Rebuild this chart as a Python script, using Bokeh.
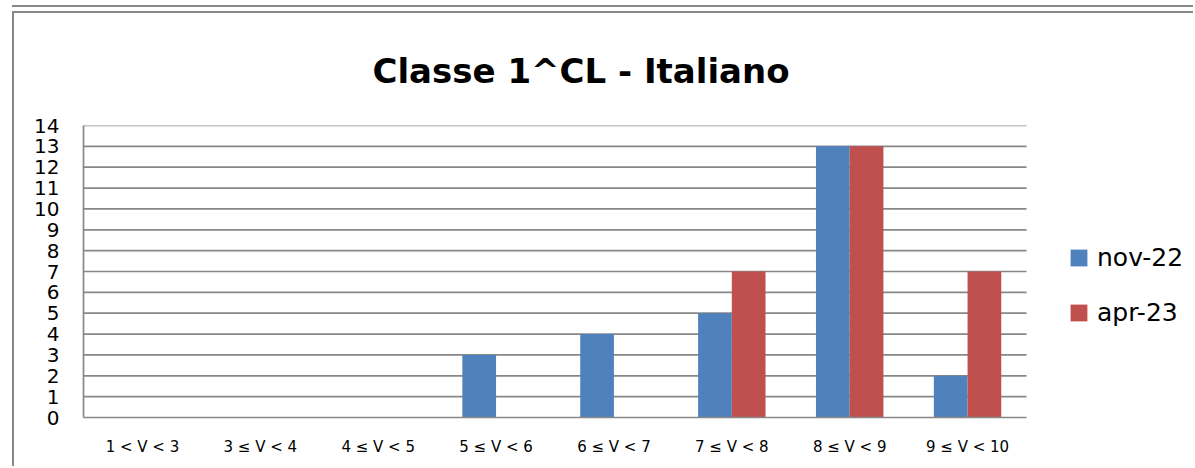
from bokeh.plotting import figure
from bokeh.models import (FixedTicker, Legend, LegendItem, Range1d, ColumnDataSource)
from bokeh.transform import dodge
from bokeh.embed import file_html
from bokeh.resources import INLINE

# ---- data ----
categories = ["1 < V < 3", "3 ≤ V < 4", "4 ≤ V < 5", "5 ≤ V < 6",
              "6 ≤ V < 7", "7 ≤ V < 8", "8 ≤ V < 9", "9 ≤ V < 10"]
nov22 = [0, 0, 0, 3, 4, 5, 13, 2]
apr23 = [0, 0, 0, 0, 0, 7, 13, 7]
series_names = ["nov-22", "apr-23"]
y_ticks = list(range(0, 15))
title_text = "Classe 1^CL - Italiano"

# ---- layout ----
OX, OY = 14, 13            # canvas origin on the page (after css margin + border)
W, H = 1195 - OX, 468 - OY
FL, FT, FB = 83 - OX, 125 - OY, 417 - OY
PLOT_R = 1026 - OX         # right end of the category area
YMAX = 14
NCAT = len(categories)
XMAX = NCAT * (W - FL) / (PLOT_R - FL)   # frame runs to canvas edge (room for legend)

GRAY = "#878787"
FONT = "DejaVu Sans"

p = figure(width=W, height=H,
           x_range=Range1d(0, XMAX), y_range=Range1d(0, YMAX),
           output_backend="svg", toolbar_location=None,
           min_border_left=FL, min_border_right=0,
           min_border_top=FT, min_border_bottom=H - FB)
p.styles = {"margin-left": "12px", "margin-top": "11px",
            "border-left": "2px solid " + GRAY, "border-top": "2px solid " + GRAY,
            "box-shadow": "0 -4px 0 0 white, 0 -6px 0 0 " + GRAY}
p.outline_line_color = None
p.background_fill_color = "white"
p.border_fill_color = "white"

# title
p.title.text = title_text
p.title.text_font = FONT
p.title.text_font_size = "34px"
p.title.text_font_style = "bold"
p.title.text_color = "black"
p.title.align = "left"
p.title.offset = 289
p.title.standoff = 69

pos = [i + 0.5 for i in range(NCAT)]
src = ColumnDataSource(dict(pos=pos, nov=nov22, apr=apr23))
bw = 0.286

# horizontal gridlines limited to the category area
p.segment(x0=0, x1=NCAT, y0=y_ticks[1:], y1=y_ticks[1:],
          line_color=GRAY, line_width=1.7)

r1 = p.vbar(x=dodge("pos", -bw / 2), top="nov", width=bw,
            source=src, fill_color="#4F81BD", line_color=None)
r2 = p.vbar(x=dodge("pos", bw / 2), top="apr", width=bw,
            source=src, fill_color="#C0504D", line_color=None)

# axes
p.xgrid.grid_line_color = None
p.ygrid.grid_line_color = None
p.yaxis.ticker = FixedTicker(ticks=y_ticks)
p.xaxis.ticker = FixedTicker(ticks=pos)
p.xaxis.major_label_overrides = {x: c for x, c in zip(pos, categories)}
p.xaxis.bounds = (0, NCAT)

for ax in (p.xaxis[0], p.yaxis[0]):
    ax.axis_line_color = GRAY
    ax.axis_line_width = 1.7
    ax.major_tick_line_color = None
    ax.minor_tick_line_color = None
    ax.major_tick_out = 0
    ax.major_tick_in = 0
    ax.major_label_text_color = "black"
    ax.major_label_text_font = FONT

p.yaxis.major_label_text_font_size = "20px"
p.yaxis.major_label_standoff = 24
p.xaxis.major_label_text_font_size = "15px"
p.xaxis.major_label_standoff = 20

# legend
legend = Legend(items=[LegendItem(label=series_names[0], renderers=[r1]),
                       LegendItem(label=series_names[1], renderers=[r2])],
                location=(1068 - 83, 90),
                glyph_width=21, glyph_height=21, label_standoff=8,
                label_text_font=FONT, label_text_font_size="25px",
                label_text_color="black",
                spacing=26, padding=0, margin=0,
                border_line_color=None, background_fill_alpha=0)
p.add_layout(legend)

open("out.html", "w").write(file_html(p, INLINE))
